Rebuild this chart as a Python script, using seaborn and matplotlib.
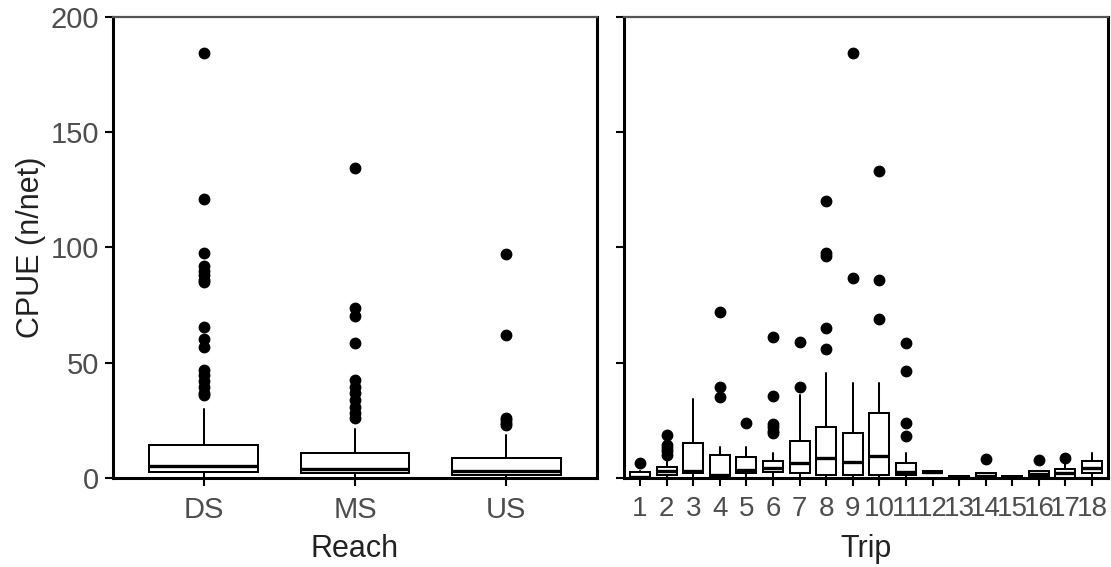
import matplotlib
matplotlib.use("Agg")
import matplotlib.pyplot as plt
import seaborn as sns

# ---- CPUE summaries by reach -------------------------------------------
reaches = ["DS", "MS", "US"]
reach_whislo = [0.0, 0.0, 0.0]
reach_q1 = [2.5, 2.0, 1.5]
reach_med = [5.3, 3.8, 3.0]
reach_q3 = [14.3, 10.7, 8.8]
reach_whishi = [29.8, 21.3, 18.7]
reach_fliers = [
    [184.5, 121.0, 97.6, 92.0, 90.0, 88.0, 86.0, 85.0, 65.5, 60.2, 57.0,
     47.0, 44.5, 42.0, 39.5, 37.0, 36.0],
    [134.5, 73.6, 70.3, 58.4, 42.5, 39.6, 36.7, 33.8, 30.9, 28.0, 25.9],
    [97.2, 62.0, 26.0, 25.0, 24.0, 23.0],
]

# ---- CPUE summaries by trip --------------------------------------------
trips = [str(t) for t in range(1, 19)]
trip_whislo = [0, 0, 0, 0, 0, 0, 0, 0, 0, 0, 0, 2.0, 0, 0, 0, 0, 0, 0]
trip_q1 = [0, 1.3, 2.0, 0.5, 2.0, 2.7, 2.0, 1.5, 1.5, 1.5, 1.5, 2.0, 0, 0, 0, 0.5, 0, 2.3]
trip_med = [0.5, 3.0, 3.2, 1.5, 3.5, 4.2, 6.4, 8.5, 6.9, 9.5, 2.7, 2.5, 0.5, 1.0, 0.5, 1.6, 2.0, 4.5]
trip_q3 = [2.5, 4.9, 15.0, 10.0, 9.0, 7.4, 15.9, 22.0, 19.4, 28.0, 6.4, 3.2, 1.0, 2.3, 1.0, 3.2, 3.9, 7.4]
trip_whishi = [3.0, 7.8, 34.4, 13.6, 13.6, 11.0, 36.0, 45.4, 41.4, 41.4, 11.0, 3.2, 1.0, 2.3, 1.0, 3.2, 7.0, 11.0]
trip_fliers = [
    [6.6],
    [18.7, 14.5, 13.0, 11.5, 10.0],
    [],
    [72.2, 39.6, 35.3],
    [23.7],
    [61.0, 35.7, 23.5, 22.0, 20.5, 19.5],
    [59.2, 39.3],
    [120.2, 97.5, 96.5, 65.2, 55.8],
    [184.5, 86.6],
    [133.2, 85.9, 68.8],
    [58.4, 46.4, 23.7, 18.4],
    [],
    [],
    [8.1],
    [],
    [7.8],
    [8.8],
    [],
]

y_ticks = [0, 50, 100, 150, 200]


def box_stats(labels, lo, q1, med, q3, hi, fliers):
    return [
        dict(label=lab, whislo=a, q1=b, med=c, q3=d, whishi=e, fliers=f)
        for lab, a, b, c, d, e, f in zip(labels, lo, q1, med, q3, hi, fliers)
    ]


sns.set_theme(style="ticks")
plt.rcParams["font.family"] = ["Liberation Sans", "DejaVu Sans"]

fig = plt.figure(figsize=(11.11, 5.67), dpi=100)
ax_reach = fig.add_axes([0.1017, 0.157, 0.4357, 0.813])
ax_trip = fig.add_axes([0.5617, 0.157, 0.4356, 0.813])

box_kw = dict(
    showcaps=False,
    patch_artist=True,
    boxprops=dict(facecolor="white", edgecolor="black", linewidth=1.45),
    whiskerprops=dict(color="black", linewidth=1.45),
    medianprops=dict(color="black", linewidth=2.4),
    flierprops=dict(marker="o", markerfacecolor="black", markeredgecolor="black",
                    markersize=7.5, linestyle="none"),
)

reach_stats = box_stats(reaches, reach_whislo, reach_q1, reach_med,
                        reach_q3, reach_whishi, reach_fliers)
trip_stats = box_stats(trips, trip_whislo, trip_q1, trip_med,
                       trip_q3, trip_whishi, trip_fliers)

ax_reach.bxp(reach_stats, positions=range(1, len(reaches) + 1), widths=0.72, **box_kw)
ax_trip.bxp(trip_stats, positions=range(1, len(trips) + 1), widths=0.75, **box_kw)

ax_reach.set_xlim(0.4, len(reaches) + 0.6)
ax_trip.set_xlim(0.4, len(trips) + 0.6)

tick_color = "#4d4d4d"
for ax in (ax_reach, ax_trip):
    ax.set_ylim(0, 200)
    ax.set_yticks(y_ticks)
    ax.tick_params(axis="both", which="major", length=6, width=1.5,
                   color="black", labelcolor=tick_color, labelsize=21, pad=4)
    ax.tick_params(axis="x", pad=7)
    for side in ("left", "bottom", "right"):
        ax.spines[side].set_visible(True)
        ax.spines[side].set_color("black")
        ax.spines[side].set_linewidth(2.2)
    ax.spines["top"].set_visible(True)
    ax.spines["top"].set_color("#555555")
    ax.spines["top"].set_linewidth(1.6)
    ax.set_facecolor("white")

ax_reach.set_xticks(range(1, len(reaches) + 1))
ax_reach.set_xticklabels(reaches)
ax_trip.set_xticks(range(1, len(trips) + 1))
ax_trip.set_xticklabels(trips, fontsize=20)
ax_trip.set_yticklabels([])

ax_reach.set_ylabel("CPUE (n/net)", fontsize=22, color="#222222", labelpad=3)
ax_reach.set_xlabel("Reach", fontsize=22, color="#222222")
ax_trip.set_xlabel("Trip", fontsize=22, color="#222222")
# put both axis titles on the same baseline
for ax in (ax_reach, ax_trip):
    ax.xaxis.set_label_coords(0.5, -0.122)
ax_trip.set_ylabel("")

fig.savefig("out.png", dpi=100, facecolor="white")
